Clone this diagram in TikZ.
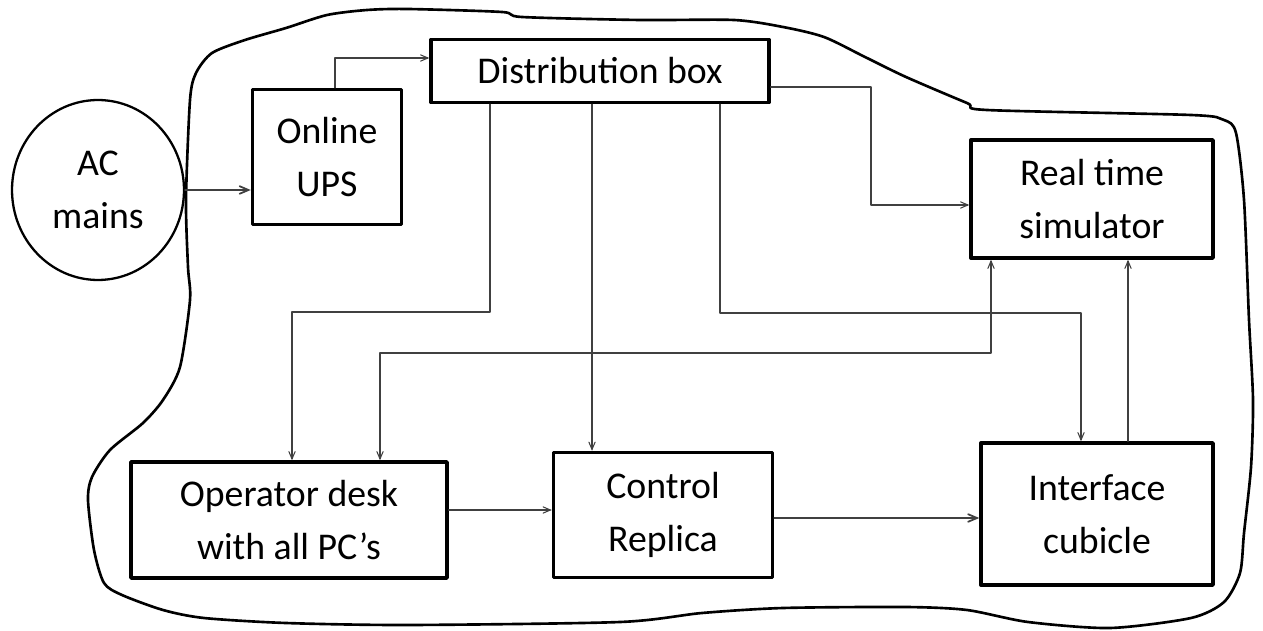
\documentclass[tikz,border=0pt]{standalone}
\usepackage{fontspec}
\setmainfont{Carlito}
\usepackage{tikz}
\usetikzlibrary{arrows,shapes.geometric}

\begin{document}
\begin{tikzpicture}[line cap=round,line join=round,>=angle 45,x=0.02cm,y=-0.02cm,
		blk/.style={draw=black,line width=2pt,align=center,inner sep=0pt,font=\fontsize{21.5}{30}\selectfont},
		wire/.style={draw=black!75,line width=0.6pt}]
		\useasboundingbox (0,0) rectangle (1263,631);
		
		% outline of the lab
		\draw[line width=1.5pt] plot[smooth cycle,tension=0.45] coordinates {
			(190,100) (196,73) (212,53) (245,40) (286,28) (327,15) (367,10) (408,9)
			(502,12) (522,17) (640,20) (734,20) (783,27) (824,37) (865,57) (906,77)
			(967,103) (987,110) (1191,115) (1224,120) (1236,133) (1244,200) (1249,320)
			(1253,400) (1251,467) (1244,533) (1240,573) (1224,602) (1191,618) (1110,628)
			(1028,622) (967,610) (906,607) (783,608) (702,613) (620,622) (408,625)
			(286,623) (204,618) (163,610) (122,595) (104,583) (94,550) (88,500)
			(92,477) (110,450) (143,423) (163,400) (180,367) (190,300) (188,267) (186,200)};
		
		\node[ellipse,draw=black,line width=1.3pt,align=center,inner sep=0pt,minimum width=3.44cm,minimum height=3.6cm,font=\fontsize{21.5}{30}\selectfont] (ac) at (98,190) {AC\\mains};
		\node[blk,minimum width=2.98cm,minimum height=2.7cm] (ups) at (327,157) {Online\\UPS};
		\node[blk,minimum width=6.76cm,minimum height=1.26cm] (dist) at (600,71) {Distribution box};
		\node[blk,minimum width=4.84cm,minimum height=2.36cm] (rts) at (1092,199) {Real time\\simulator};
		\node[blk,minimum width=6.32cm,minimum height=2.32cm] (desk) at (289,520) {Operator desk\\with all PC’s};
		\node[blk,minimum width=4.38cm,minimum height=2.5cm] (ctrl) at (663,515) {Control\\Replica};
		\node[blk,minimum width=4.64cm,minimum height=2.84cm] (intf) at (1097,514) {Interface\\cubicle};
		
		\draw[wire,->,line width=1pt] (ac.east) -- (ac.east -| ups.west);
		\draw[wire,->] (335,0 |- ups.north) |- (0,58 -| dist.west);
		\draw[wire,->] (0,87 -| dist.east) -| (871,205) -- (0,205 -| rts.west);
		\draw[wire,->] (490,0 |- dist.south) |- (292,312) -- (292,0 |- desk.north);
		\draw[wire,->] (592,0 |- dist.south) -- (592,0 |- ctrl.north);
		\draw[wire,->] (720,0 |- dist.south) |- (1081,313) -- (1081,0 |- intf.north);
		\draw[wire,<->] (380,0 |- desk.north) |- (991,353) -- (991,0 |- rts.south);
		\draw[wire,->] (1128,0 |- intf.north) -- (1128,0 |- rts.south);
		\draw[wire,->] (0,510 -| desk.east) -- (0,510 -| ctrl.west);
		\draw[wire,->,line width=1pt] (0,518 -| ctrl.east) -- (0,518 -| intf.west);
	\end{tikzpicture}
\end{document}
